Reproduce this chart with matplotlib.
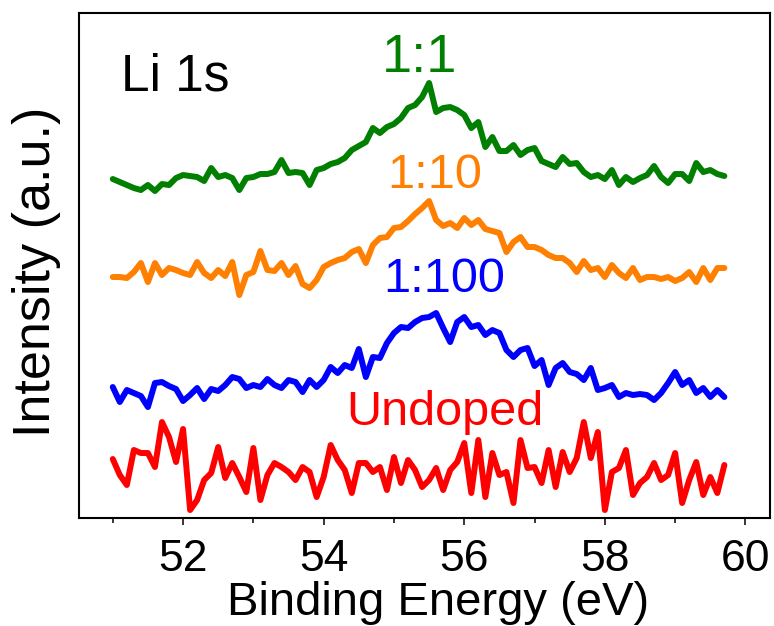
import matplotlib.pyplot as plt
import numpy as np

plt.rcParams['font.family'] = ['Liberation Sans', 'DejaVu Sans']

# binding energy grid (eV), 0.1 eV steps
energy = np.round(np.arange(51.0, 59.75, 0.1), 2)

# stacked Li 1s spectra (a.u., offsets already included)
ratio_1_1 = [338, 335, 332, 329, 327, 332, 326, 333, 332, 339,
             342, 341, 340, 336, 349, 340, 342, 339, 327, 339,
             340, 343, 343, 345, 357, 344, 345, 344, 332, 347,
             349, 353, 355, 359, 367, 371, 375, 389, 384, 390,
             393, 399, 409, 412, 420, 434, 405, 409, 410, 407,
             402, 389, 395, 370, 380, 366, 366, 372, 362, 367,
             369, 356, 353, 350, 360, 353, 354, 345, 340, 342,
             338, 347, 332, 340, 335, 339, 342, 351, 340, 334,
             343, 343, 336, 354, 345, 347, 343, 341]
ratio_1_10 = [240, 240, 239, 245, 254, 235, 254, 242, 249, 247,
              244, 242, 255, 244, 239, 247, 241, 255, 222, 242,
              245, 266, 247, 246, 254, 242, 251, 233, 229, 237,
              250, 254, 257, 259, 265, 268, 254, 272, 279, 280,
              289, 290, 296, 303, 309, 316, 297, 291, 294, 289,
              299, 292, 297, 288, 286, 284, 265, 275, 280, 270,
              270, 267, 262, 259, 259, 254, 245, 256, 247, 249,
              240, 252, 244, 239, 249, 237, 240, 240, 238, 240,
              236, 239, 245, 235, 249, 237, 249, 249]
ratio_1_100 = [130, 115, 127, 124, 121, 110, 134, 135, 131, 128,
               116, 122, 129, 118, 128, 126, 132, 140, 138, 129,
               132, 130, 138, 132, 129, 137, 135, 125, 137, 130,
               137, 150, 144, 152, 149, 168, 140, 160, 159, 174,
               184, 190, 189, 195, 199, 200, 204, 189, 175, 195,
               200, 190, 192, 182, 187, 184, 167, 160, 167, 169,
               151, 157, 132, 149, 154, 145, 143, 137, 149, 127,
               129, 132, 120, 124, 122, 123, 122, 117, 124, 134,
               145, 132, 137, 124, 129, 120, 127, 120]
undoped = [58, 42, 32, 67, 64, 64, 50, 95, 80, 55,
           88, 7, 17, 37, 44, 70, 39, 54, 40, 25,
           69, 17, 42, 54, 50, 45, 37, 50, 45, 20,
           40, 72, 57, 47, 24, 54, 54, 45, 50, 27,
           60, 34, 57, 47, 30, 37, 49, 27, 47, 55,
           74, 24, 77, 20, 64, 42, 45, 14, 77, 49,
           50, 34, 67, 30, 65, 45, 59, 95, 59, 85,
           7, 45, 49, 67, 22, 34, 40, 54, 37, 42,
           64, 14, 37, 55, 22, 40, 24, 52]

fig = plt.figure(figsize=(7.74, 6.26), dpi=100)
ax = fig.add_axes([0.1021, 0.1725, 0.8928, 0.8067])

series = [(undoped, 'red', 'Undoped', 55.72, 92, 35),
          (ratio_1_100, 'blue', '1:100', 55.71, 225, 35),
          (ratio_1_10, '#ff7f00', '1:10', 55.58, 329, 35),
          (ratio_1_1, '#007f00', '1:1', 55.37, 445, 39)]

for vals, col, name, tx, ty, fs in series:
    ax.plot(energy, vals, color=col, lw=4.3, solid_capstyle='round',
            solid_joinstyle='round')
    ax.text(tx, ty, name, color=col, fontsize=fs, ha='center', va='baseline')

ax.text(51.12, 427, 'Li 1s', fontsize=37, ha='left', va='baseline')

ax.set_xlim(50.52, 60.35)
ax.set_ylim(-1, 504)
ax.set_xticks([52, 54, 56, 58, 60])
ax.set_xticks([51, 53, 55, 57, 59], minor=True)
ax.set_yticks([])
ax.tick_params(axis='x', which='major', direction='out', length=5,
               width=1.1, labelsize=32, pad=10)
ax.tick_params(axis='x', which='minor', direction='out', length=3.6,
               width=1.1)
for sp in ax.spines.values():
    sp.set_linewidth(1.5)

ax.set_xlabel('Binding Energy (eV)', fontsize=34)
ax.xaxis.set_label_coords(0.52, -0.125)
ax.set_ylabel('Intensity (a.u.)', fontsize=37.5)
ax.yaxis.set_label_coords(-0.026, 0.487)

plt.savefig('out.png', dpi=100)
